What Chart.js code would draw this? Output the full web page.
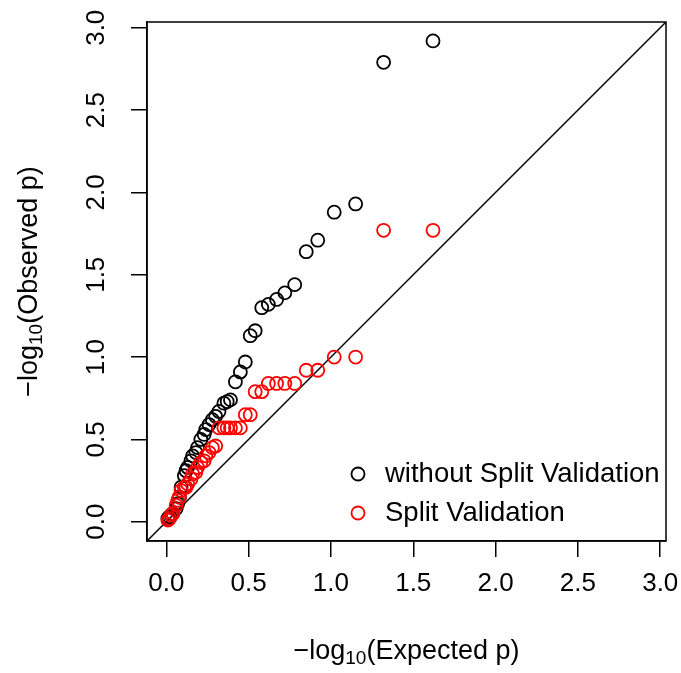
<!DOCTYPE html>
<html>
<head>
<meta charset="utf-8">
<script src="https://cdn.jsdelivr.net/npm/chart.js@4/dist/chart.umd.min.js"></script>
<style>
html,body{margin:0;padding:0;background:#fff;}
#wrap{width:681px;height:673px;}
</style>
</head>
<body>
<div id="wrap"><canvas id="qq" width="681" height="673"></canvas></div>
<script>
// -log10(expected p), one per test
var expectedP = [1.62,1.32,1.15,1.02,0.92,0.85,0.78,0.72,0.67,0.62,0.58,0.54,0.51,0.48,0.45,0.42,0.39,0.37,0.35,0.32,
	0.30,0.28,0.26,0.24,0.23,0.21,0.19,0.18,0.16,0.15,0.13,0.12,0.11,0.09,0.08,0.07,0.06,0.04,0.03,0.02,0.01];
// -log10(observed p)
var observedNoSplit = [2.92,2.79,1.93,1.88,1.71,1.64,1.44,1.39,1.35,1.32,1.30,1.16,1.13,0.97,0.91,0.85,0.74,0.73,0.72,0.67,
	0.64,0.62,0.59,0.56,0.53,0.50,0.45,0.42,0.40,0.37,0.33,0.31,0.28,0.21,0.15,0.11,0.08,0.05,0.04,0.03,0.02];
var observedSplit = [1.77,1.77,1.00,1.00,0.92,0.92,0.84,0.84,0.84,0.84,0.79,0.79,0.65,0.65,0.57,0.57,0.57,0.57,0.57,0.57,
	0.46,0.45,0.42,0.40,0.37,0.36,0.33,0.30,0.29,0.26,0.23,0.21,0.21,0.19,0.15,0.13,0.10,0.05,0.04,0.02,0.01];
var seriesNames = ['without Split Validation','Split Validation'];
var seriesColors = ['#000000','#ff0000'];
var tickValues = [0,0.5,1,1.5,2,2.5,3];
var tickLabels = ['0.0','0.5','1.0','1.5','2.0','2.5','3.0'];
var axisMin = -0.117, axisMax = 3.035;

var FONT = '"Liberation Sans", Arial, sans-serif';
var FS = 26;

function toPoints(xs, ys){
	return xs.map(function(x,i){ return {x:x, y:ys[i]}; });
}

function drawLogLabel(ctx, inner, cx, cy, angle){
	var big = '27px ' + FONT, small = '19px ' + FONT;
	var parts = [['\u2212log', big, 0], ['10', small, 7], ['(' + inner + ')', big, 0]];
	var total = 0;
	parts.forEach(function(p){ ctx.font = p[1]; p.push(ctx.measureText(p[0]).width); total += p[3]; });
	ctx.save();
	ctx.translate(cx, cy);
	ctx.rotate(angle);
	ctx.textAlign = 'left';
	ctx.textBaseline = 'middle';
	var x = -total/2;
	parts.forEach(function(p){
		ctx.font = p[1];
		ctx.fillText(p[0], x, p[2]);
		x += p[3];
	});
	ctx.restore();
}

var rBase = {
	id:'rBase',
	afterDraw:function(chart){
		var ctx = chart.ctx, a = chart.chartArea;
		var xs = chart.scales.x, ys = chart.scales.y;
		ctx.save();
		ctx.strokeStyle = '#000';
		ctx.lineWidth = 1.5;
		ctx.strokeRect(a.left, a.top, a.right - a.left, a.bottom - a.top);

		ctx.fillStyle = '#000';
		ctx.font = FS + 'px ' + FONT;
		ctx.textAlign = 'center';
		ctx.textBaseline = 'middle';
		for (var i = 0; i < tickValues.length; i++) {
			ctx.fillText(tickLabels[i], xs.getPixelForValue(tickValues[i]), 584);
			ctx.save();
			ctx.translate(97, ys.getPixelForValue(tickValues[i]));
			ctx.rotate(-Math.PI/2);
			ctx.fillText(tickLabels[i], 0, 0);
			ctx.restore();
		}

		drawLogLabel(ctx, 'Expected p', (a.left + a.right)/2, 652, 0);
		drawLogLabel(ctx, 'Observed p', 30, (a.top + a.bottom)/2, -Math.PI/2);

		// legend, no box
		var ly = [474, 513];
		ctx.font = '27.5px ' + FONT;
		ctx.textAlign = 'left';
		for (var j = 0; j < seriesNames.length; j++) {
			ctx.beginPath();
			ctx.lineWidth = 1.8;
			ctx.strokeStyle = seriesColors[j];
			ctx.arc(358, ly[j], 6.5, 0, Math.PI*2);
			ctx.stroke();
			ctx.fillStyle = '#000';
			ctx.fillText(seriesNames[j], 385, ly[j]);
		}
		ctx.restore();
	}
};

function axisOpts(isX){
	return {
		type:'linear',
		min:axisMin,
		max:axisMax,
		afterBuildTicks:function(s){ s.ticks = tickValues.map(function(v){ return {value:v}; }); },
		afterFit:function(s){ if (isX) s.height = 132; else s.width = 147; },
		ticks:{display:false},
		grid:{drawOnChartArea:false, drawTicks:true, tickLength:16, color:'#000', lineWidth:1.5},
		border:{display:true, color:'#000', width:1.5}
	};
}

var chart = new Chart(document.getElementById('qq').getContext('2d'), {
	type:'scatter',
	data:{
		datasets:[{
			label:seriesNames[1],
			data:toPoints(expectedP, observedSplit),
			borderColor:seriesColors[1],
			backgroundColor:'rgba(0,0,0,0)',
			pointRadius:6.5,
			pointBorderWidth:1.8,
			order:0
		},{
			label:seriesNames[0],
			data:toPoints(expectedP, observedNoSplit),
			borderColor:seriesColors[0],
			backgroundColor:'rgba(0,0,0,0)',
			pointRadius:6.5,
			pointBorderWidth:1.8,
			order:1
		},{
			type:'line',
			label:'y = x',
			data:[{x:axisMin,y:axisMin},{x:axisMax,y:axisMax}],
			borderColor:'#000',
			borderWidth:1.5,
			pointRadius:0,
			fill:false,
			order:2
		}]
	},
	options:{
		responsive:false,
		animation:false,
		devicePixelRatio:1,
		events:[],
		layout:{padding:{left:0, top:22, right:15, bottom:0}},
		plugins:{legend:{display:false}, tooltip:{enabled:false}},
		scales:{x:axisOpts(true), y:axisOpts(false)}
	},
	plugins:[rBase]
});
</script>
</body>
</html>
